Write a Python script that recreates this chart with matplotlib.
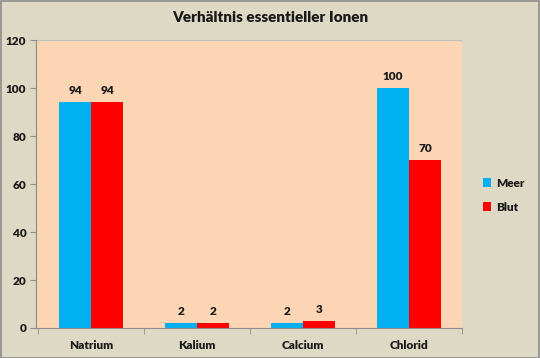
import matplotlib
matplotlib.use("Agg")
import matplotlib.pyplot as plt
import numpy as np

categories = ["Natrium", "Kalium", "Calcium", "Chlorid"]
meer = [94, 2, 2, 100]
blut = [94, 2, 3, 70]
series_names = ["Meer", "Blut"]
yticks = [0, 20, 40, 60, 80, 100, 120]

plt.rcParams['font.family'] = ['Lato', 'DejaVu Sans']
plt.rcParams['font.weight'] = 'bold'

fig = plt.figure(figsize=(5.4, 3.58), dpi=100)
fig.patch.set_facecolor('#DDD9C4')
fig.patches.append(plt.Rectangle((0.001, 0.001), 0.997, 0.996, transform=fig.transFigure,
                                 fill=False, edgecolor='#8C8C8C', linewidth=1.2))
ax = fig.add_axes([0.0667, 0.0838, 0.7889, 0.8042])
ax.set_facecolor('#FCD5B5')

x = np.arange(len(categories))
w = 0.3
b1 = ax.bar(x - w/2, meer, w, color='#00B0F0', label=series_names[0])
b2 = ax.bar(x + w/2, blut, w, color='#FF0000', label=series_names[1])
for bars, vals in ((b1, meer), (b2, blut)):
    for r, v in zip(bars, vals):
        ax.text(r.get_x() + r.get_width()/2, v + 2.5, str(v), ha='center', va='bottom',
                fontsize=8.5, fontweight='heavy', color='#1a1a1a')

ax.set_xlim(-0.52, 3.48)
ax.set_ylim(0, 120)
ax.set_yticks(yticks)
ax.set_yticklabels([str(t) for t in yticks], fontsize=8.5, fontweight='heavy', color='#1a1a1a')
ax.set_xticks(x)
ax.set_xticklabels(categories, fontsize=8.5, fontweight='heavy', color='#1a1a1a')
ax.set_xticks(np.arange(-0.5, 4, 1), minor=True)
ax.tick_params(axis='x', which='major', length=0, pad=9)
ax.tick_params(axis='x', which='minor', length=4, color='#8C8C8C', direction='out')
ax.tick_params(axis='y', length=4, color='#8C8C8C', direction='out', pad=3)
ax.axhline(120, color='#BFBFBF', linewidth=0.8)
for s in ['top', 'right']:
    ax.spines[s].set_visible(False)
ax.spines['left'].set_color('#8C8C8C')
ax.spines['bottom'].set_color('#8C8C8C')

fig.text(0.5, 0.952, "Verhältnis essentieller Ionen", fontsize=11, fontweight='heavy',
         ha='center', va='center', color='#1a1a1a')

leg = fig.legend(loc='center left', bbox_to_anchor=(0.875, 0.455), frameon=False,
                 fontsize=8.5, handlelength=0.7, handleheight=0.7, handletextpad=0.4,
                 labelspacing=1.1)
for t in leg.get_texts():
    t.set_fontweight('heavy')
    t.set_color('#1a1a1a')

fig.savefig('out.png', dpi=100, facecolor=fig.get_facecolor())
